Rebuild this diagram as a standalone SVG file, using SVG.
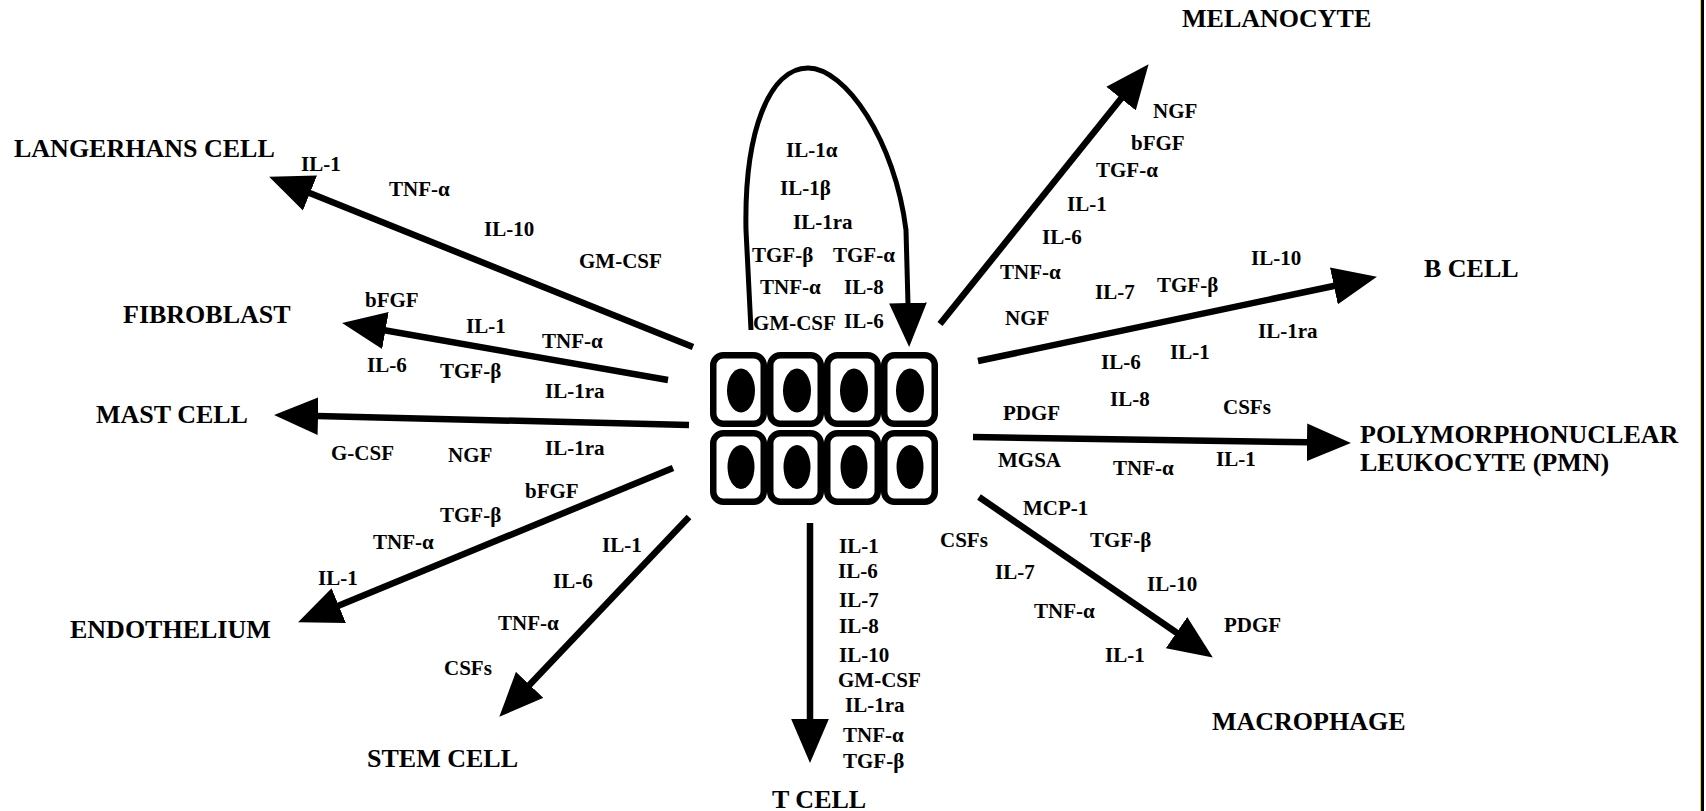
<svg xmlns="http://www.w3.org/2000/svg" width="1706" height="811" viewBox="0 0 1706 811">
<style>
text{font-family:"Liberation Serif","Times New Roman",serif;font-weight:bold;fill:#000}
.lb{font-size:21px}
.big{font-size:26px}
.arr{stroke:#000;stroke-width:6.5;fill:none;marker-end:url(#ah)}
.cell{fill:#fff;stroke:#000;stroke-width:6.5}
.nuc{fill:#000}
</style>
<defs>
<marker id="ah" markerUnits="userSpaceOnUse" markerWidth="44" markerHeight="38" viewBox="0 0 42 36" refX="1" refY="18" orient="auto">
<path d="M0,0 L42,18 L0,36 Z" fill="#000"/>
</marker>
</defs>
<rect width="1706" height="811" fill="#fff"/>
<rect x="1700" y="0" width="1" height="811" fill="#e8e000"/>
<rect x="1701" y="0" width="3" height="811" fill="#000"/>

<g id="connectors">
<line class="arr" x1="693" y1="347" x2="309" y2="192.7"/>
<line class="arr" x1="668" y1="380" x2="384.4" y2="330.3"/>
<line class="arr" x1="689" y1="425" x2="317" y2="416"/>
<line class="arr" x1="673" y1="468" x2="337.8" y2="606"/>
<line class="arr" x1="689" y1="517" x2="528.9" y2="685.6"/>
<line class="arr" x1="810" y1="523" x2="810" y2="720"/>
<line class="arr" x1="979" y1="497" x2="1177.4" y2="633.2"/>
<line class="arr" x1="973" y1="437" x2="1308" y2="442.3"/>
<line class="arr" x1="978" y1="361" x2="1334.9" y2="285.7"/>
<line class="arr" x1="940" y1="324" x2="1121.7" y2="97.8"/>
<path class="arr" style="stroke-width:5" d="M751,330 L746,230 C744,130 770,68 808,68 C845,68 895,140 906,230 L908,304"/>
</g>

<g id="keratinocytes">
<rect class="cell" x="713.25" y="355.25" width="50.5" height="68.5" rx="10"/>
<rect class="cell" x="770.25" y="355.25" width="50.5" height="68.5" rx="10"/>
<rect class="cell" x="827.25" y="355.25" width="50.5" height="68.5" rx="10"/>
<rect class="cell" x="884.25" y="355.25" width="50.5" height="68.5" rx="10"/>
<rect class="cell" x="713.25" y="433.25" width="50.5" height="68.5" rx="10"/>
<rect class="cell" x="770.25" y="433.25" width="50.5" height="68.5" rx="10"/>
<rect class="cell" x="827.25" y="433.25" width="50.5" height="68.5" rx="10"/>
<rect class="cell" x="884.25" y="433.25" width="50.5" height="68.5" rx="10"/>
<ellipse class="nuc" cx="741" cy="390.5" rx="14" ry="22"/>
<ellipse class="nuc" cx="797" cy="390.5" rx="14" ry="22"/>
<ellipse class="nuc" cx="854" cy="390.5" rx="14" ry="22"/>
<ellipse class="nuc" cx="910" cy="390.5" rx="14" ry="22"/>
<ellipse class="nuc" cx="741" cy="467" rx="13.5" ry="22"/>
<ellipse class="nuc" cx="797" cy="467" rx="13.5" ry="22"/>
<ellipse class="nuc" cx="854" cy="467" rx="13.5" ry="22"/>
<ellipse class="nuc" cx="910" cy="467" rx="13.5" ry="22"/>
</g>

<g id="autocrine">
<text class="lb" x="786" y="157">IL-1α</text>
<text class="lb" x="780" y="195">IL-1β</text>
<text class="lb" x="793" y="229">IL-1ra</text>
<text class="lb" x="752" y="262">TGF-β</text>
<text class="lb" x="833" y="262">TGF-α</text>
<text class="lb" x="760" y="294">TNF-α</text>
<text class="lb" x="844" y="294">IL-8</text>
<text class="lb" x="753" y="330">GM-CSF</text>
<text class="lb" x="844" y="328">IL-6</text>
</g>

<g id="langerhans">
<text class="big" x="14" y="157">LANGERHANS CELL</text>
<text class="lb" x="301" y="171">IL-1</text>
<text class="lb" x="389" y="196">TNF-α</text>
<text class="lb" x="484" y="236">IL-10</text>
<text class="lb" x="579" y="268">GM-CSF</text>
</g>

<g id="fibroblast">
<text class="big" x="123" y="323">FIBROBLAST</text>
<text class="lb" x="365" y="307">bFGF</text>
<text class="lb" x="466" y="333">IL-1</text>
<text class="lb" x="542" y="348">TNF-α</text>
<text class="lb" x="367" y="372">IL-6</text>
<text class="lb" x="440" y="378">TGF-β</text>
<text class="lb" x="545" y="398">IL-1ra</text>
</g>

<g id="mast-cell">
<text class="big" x="96" y="423">MAST CELL</text>
<text class="lb" x="331" y="460">G-CSF</text>
<text class="lb" x="448" y="462">NGF</text>
<text class="lb" x="545" y="455">IL-1ra</text>
</g>

<g id="endothelium">
<text class="big" x="70" y="638">ENDOTHELIUM</text>
<text class="lb" x="525" y="498">bFGF</text>
<text class="lb" x="440" y="522">TGF-β</text>
<text class="lb" x="373" y="549">TNF-α</text>
<text class="lb" x="318" y="585">IL-1</text>
</g>

<g id="stem-cell">
<text class="big" x="367" y="767">STEM CELL</text>
<text class="lb" x="602" y="552">IL-1</text>
<text class="lb" x="553" y="588">IL-6</text>
<text class="lb" x="498" y="630">TNF-α</text>
<text class="lb" x="444" y="675">CSFs</text>
</g>

<g id="t-cell">
<text class="big" x="772" y="808">T CELL</text>
<text class="lb" x="839" y="553">IL-1</text>
<text class="lb" x="838" y="578">IL-6</text>
<text class="lb" x="839" y="607">IL-7</text>
<text class="lb" x="839" y="633">IL-8</text>
<text class="lb" x="839" y="662">IL-10</text>
<text class="lb" x="838" y="687">GM-CSF</text>
<text class="lb" x="845" y="712">IL-1ra</text>
<text class="lb" x="843" y="742">TNF-α</text>
<text class="lb" x="843" y="768">TGF-β</text>
</g>

<g id="macrophage">
<text class="big" x="1212" y="730">MACROPHAGE</text>
<text class="lb" x="1023" y="515">MCP-1</text>
<text class="lb" x="940" y="547">CSFs</text>
<text class="lb" x="1090" y="547">TGF-β</text>
<text class="lb" x="995" y="579">IL-7</text>
<text class="lb" x="1147" y="591">IL-10</text>
<text class="lb" x="1034" y="618">TNF-α</text>
<text class="lb" x="1224" y="632">PDGF</text>
<text class="lb" x="1105" y="662">IL-1</text>
</g>

<g id="pmn">
<text class="big" x="1360" y="443">POLYMORPHONUCLEAR</text>
<text class="big" x="1360" y="471">LEUKOCYTE (PMN)</text>
<text class="lb" x="1003" y="420">PDGF</text>
<text class="lb" x="1110" y="406">IL-8</text>
<text class="lb" x="1223" y="414">CSFs</text>
<text class="lb" x="998" y="467">MGSA</text>
<text class="lb" x="1113" y="475">TNF-α</text>
<text class="lb" x="1216" y="466">IL-1</text>
</g>

<g id="b-cell">
<text class="big" x="1424" y="277">B CELL</text>
<text class="lb" x="1095" y="299">IL-7</text>
<text class="lb" x="1157" y="292">TGF-β</text>
<text class="lb" x="1251" y="265">IL-10</text>
<text class="lb" x="1101" y="369">IL-6</text>
<text class="lb" x="1170" y="359">IL-1</text>
<text class="lb" x="1258" y="338">IL-1ra</text>
</g>

<g id="melanocyte">
<text class="big" x="1182" y="27">MELANOCYTE</text>
<text class="lb" x="1153" y="118">NGF</text>
<text class="lb" x="1131" y="150">bFGF</text>
<text class="lb" x="1096" y="177">TGF-α</text>
<text class="lb" x="1067" y="211">IL-1</text>
<text class="lb" x="1042" y="244">IL-6</text>
<text class="lb" x="1000" y="279">TNF-α</text>
<text class="lb" x="1005" y="325">NGF</text>
</g>
</svg>
